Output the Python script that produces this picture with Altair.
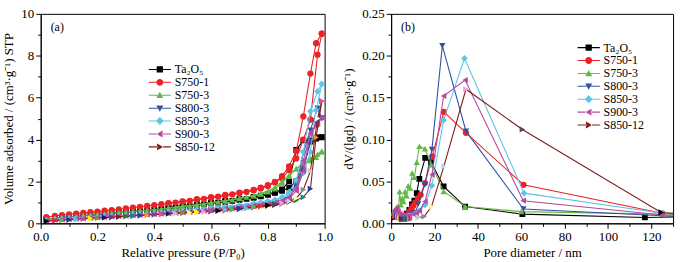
import altair as alt
import pandas as pd

FONT = "Liberation Serif"

SERIES = ["Ta\u2082O\u2085", "S750-1", "S750-3", "S800-3", "S850-3", "S900-3", "S850-12"]
COLORS = ["#000000", "#ec2227", "#62b946", "#3450a3", "#5cc6e8", "#b8489f", "#7f1d1d"]
SHAPES = ["square", "circle", "triangle-up", "triangle-down", "diamond", "triangle-left", "triangle-right"]
SIZES = [34, 40, 40, 40, 44, 40, 40]
# Origin's colour increment list, used by the S850-12 markers
CYCLE = ["#000000", "#ec2227", "#5cb846", "#2e3192", "#5bc5e8", "#c0489b", "#fff200", "#8d8c2b",
         "#1b1464", "#7b2a86", "#8b1a1a", "#2b7a2b", "#0a8a8a", "#21409a", "#f7941d", "#7a3fa0",
         "#ec4a8a", "#ffffff", "#c8c8c8", "#8a8a8a", "#fff799", "#a3e0f5", "#f0a0dc", "#4d4d4d"]

# ---------------- panel (a): isotherms ----------------
P_ADS = [0.02, 0.05, 0.075, 0.1, 0.125, 0.15, 0.175, 0.2, 0.225, 0.25, 0.275, 0.3, 0.325, 0.35,
         0.375, 0.4, 0.425, 0.45, 0.475, 0.5, 0.525, 0.55, 0.575, 0.6, 0.625, 0.65, 0.675, 0.7,
         0.725, 0.75, 0.775, 0.8, 0.825, 0.85, 0.875, 0.9, 0.925, 0.95, 0.97, 0.99]
P_DES = [0.99, 0.975, 0.95, 0.925, 0.9, 0.875, 0.85, 0.825, 0.8, 0.775, 0.75, 0.7, 0.65, 0.6,
         0.55, 0.5, 0.45]

TA_ADS = [0.2, 0.24, 0.27, 0.30, 0.33, 0.36, 0.39, 0.42, 0.45, 0.48, 0.51, 0.54, 0.57, 0.60, 0.63,
          0.66, 0.69, 0.72, 0.75, 0.78, 0.82, 0.86, 0.90, 0.95, 0.99, 1.03, 1.07, 1.12, 1.17, 1.22,
          1.29, 1.36, 1.45, 1.55, 1.70, 2.00, 2.60, 3.90, 4.05, 4.10]
TA_DES = [4.12, 4.10, 3.95, 3.96, 3.50, 2.00, 1.62, 1.48, 1.40, 1.32, 1.26, 1.16, 1.07, 0.99, 0.91,
          0.84, 0.76]
S7501_ADS = [0.30, 0.35, 0.39, 0.43, 0.46, 0.50, 0.53, 0.56, 0.60, 0.63, 0.67, 0.71, 0.75, 0.79,
             0.83, 0.87, 0.91, 0.95, 0.99, 1.03, 1.07, 1.12, 1.17, 1.22, 1.27, 1.32, 1.38, 1.44,
             1.50, 1.57, 1.66, 1.78, 1.95, 2.25, 2.72, 3.45, 5.10, 7.15, 8.60, 9.05]
S7501_DES = [9.05, 8.05, 4.95, 4.00, 3.10, 2.55, 2.15, 1.98, 1.82, 1.70, 1.60, 1.47, 1.36, 1.25,
             1.15, 1.05, 0.96]
S7503_ADS = [0.2, 0.24, 0.27, 0.30, 0.33, 0.36, 0.39, 0.42, 0.45, 0.48, 0.51, 0.54, 0.57, 0.60,
             0.63, 0.66, 0.69, 0.72, 0.75, 0.79, 0.83, 0.87, 0.92, 0.97, 1.02, 1.07, 1.12, 1.18,
             1.25, 1.32, 1.40, 1.50, 1.65, 1.92, 2.25, 2.60, 2.80, 3.00, 3.15, 3.40]
S7503_DES = [3.45, 3.30, 3.10, 2.85, 2.62, 2.30, 2.00, 1.72, 1.55, 1.42, 1.33, 1.20, 1.09, 0.99,
             0.90, 0.82, 0.74]
S8003_ADS = [0.14, 0.17, 0.19, 0.21, 0.23, 0.25, 0.27, 0.29, 0.31, 0.33, 0.35, 0.37, 0.39, 0.41,
             0.43, 0.45, 0.47, 0.49, 0.51, 0.53, 0.56, 0.58, 0.61, 0.64, 0.67, 0.70, 0.73, 0.77,
             0.81, 0.85, 0.90, 0.95, 1.02, 1.10, 1.30, 1.75, 2.60, 3.90, 4.90, 5.00]
S8003_DES = [5.02, 5.50, 4.45, 3.35, 1.90, 1.35, 1.12, 1.02, 0.96, 0.91, 0.87, 0.79, 0.72, 0.66,
             0.60, 0.55, 0.50]
S8503_ADS = [0.16, 0.19, 0.21, 0.23, 0.25, 0.27, 0.29, 0.31, 0.33, 0.35, 0.37, 0.39, 0.41, 0.43,
             0.45, 0.47, 0.50, 0.52, 0.54, 0.57, 0.59, 0.62, 0.65, 0.68, 0.71, 0.74, 0.78, 0.82,
             0.86, 0.91, 0.96, 1.02, 1.10, 1.20, 1.35, 1.65, 2.40, 3.40, 5.40, 6.65]
S8503_DES = [6.65, 6.30, 5.35, 3.40, 2.05, 1.50, 1.25, 1.13, 1.06, 1.00, 0.95, 0.86, 0.78, 0.71,
             0.65, 0.59, 0.54]
S9003_ADS = [0.13, 0.16, 0.18, 0.20, 0.22, 0.24, 0.26, 0.28, 0.30, 0.32, 0.34, 0.36, 0.38, 0.40,
             0.42, 0.44, 0.46, 0.48, 0.50, 0.52, 0.54, 0.57, 0.59, 0.62, 0.65, 0.68, 0.71, 0.74,
             0.78, 0.82, 0.86, 0.91, 0.97, 1.05, 1.20, 1.55, 2.50, 4.30, 4.70, 5.05]
S9003_DES = [5.05, 4.75, 4.30, 3.00, 1.70, 1.25, 1.08, 0.99, 0.93, 0.88, 0.84, 0.77, 0.70, 0.64,
             0.58, 0.53, 0.49]
S85012_ADS = [0.10, 0.13, 0.15, 0.17, 0.19, 0.21, 0.23, 0.25, 0.27, 0.29, 0.31, 0.33, 0.35, 0.37,
              0.39, 0.41, 0.43, 0.45, 0.47, 0.49, 0.51, 0.53, 0.55, 0.57, 0.60, 0.62, 0.65, 0.68,
              0.71, 0.75, 0.79, 0.83, 0.88, 0.94, 1.02, 1.10, 1.25, 1.65, 4.10, 5.83]
S85012_DES = [5.83, 5.00, 2.50, 1.60, 1.20, 1.05, 0.97, 0.91, 0.86, 0.82, 0.78, 0.71, 0.65, 0.59,
              0.54, 0.50, 0.46]

ISO = [(TA_ADS, TA_DES), (S7501_ADS, S7501_DES), (S7503_ADS, S7503_DES), (S8003_ADS, S8003_DES),
       (S8503_ADS, S8503_DES), (S9003_ADS, S9003_DES), (S85012_ADS, S85012_DES)]

# ---------------- panel (b): pore size distribution ----------------
TA_D = [1.2, 1.8, 2.5, 3.2, 4.0, 5.0, 6.0, 7.2, 8.4, 9.6, 10.7, 11.8, 13.0, 15.7, 18.4, 24.2, 34.1,
        60.5, 117.0, 140.0]
TA_V = [0.008, 0.010, 0.009, 0.008, 0.008, 0.008, 0.009, 0.0115, 0.016, 0.0225, 0.027, 0.036, 0.053,
        0.078, 0.073, 0.044, 0.020, 0.011, 0.007, 0.008]
S7501_D = [1.8, 2.5, 3.2, 4.0, 4.8, 5.6, 6.3, 7.0, 7.8, 8.5, 9.3, 10.2, 11.2, 12.4, 13.6, 15.6, 19.0,
           24.3, 34.5, 61.0, 125.0, 140.0]
S7501_V = [0.012, 0.010, 0.009, 0.008, 0.008, 0.008, 0.008, 0.008, 0.011, 0.014, 0.017, 0.021, 0.025,
           0.030, 0.034, 0.048, 0.080, 0.133, 0.108, 0.046, 0.012, 0.010]
S7503_D = [1.0, 1.6, 2.2, 2.8, 3.4, 3.9, 4.5, 5.1, 5.7, 6.4, 7.1, 7.9, 8.8, 9.7, 10.7, 11.8, 13.0,
           15.6, 18.6, 24.2, 34.1, 60.0, 125.0, 140.0]
S7503_V = [0.012, 0.016, 0.011, 0.020, 0.015, 0.038, 0.022, 0.030, 0.026, 0.038, 0.033, 0.045, 0.042,
           0.060, 0.055, 0.073, 0.092, 0.089, 0.070, 0.038, 0.020, 0.014, 0.011, 0.011]
S8003_D = [2.0, 3.0, 4.0, 5.0, 6.0, 7.0, 8.0, 9.0, 10.0, 11.2, 12.5, 15.5, 18.8, 23.6, 34.5, 61.0,
           125.0, 140.0]
S8003_V = [0.012, 0.010, 0.009, 0.008, 0.008, 0.008, 0.009, 0.010, 0.011, 0.013, 0.023, 0.046, 0.088,
           0.212, 0.110, 0.017, 0.009, 0.007]
S8503_D = [2.0, 3.0, 4.0, 5.0, 6.0, 7.0, 8.0, 9.0, 10.2, 11.5, 13.0, 15.6, 18.8, 24.2, 33.8, 61.3,
           125.0, 140.0]
S8503_V = [0.010, 0.009, 0.008, 0.008, 0.008, 0.008, 0.009, 0.009, 0.010, 0.012, 0.015, 0.022, 0.045,
           0.123, 0.197, 0.036, 0.012, 0.011]
S9003_D = [1.2, 1.8, 2.5, 3.2, 4.0, 5.0, 6.0, 7.0, 8.0, 9.0, 10.2, 11.5, 13.0, 15.6, 18.8, 24.2, 34.1,
           60.9, 125.0, 140.0]
S9003_V = [0.012, 0.016, 0.018, 0.014, 0.011, 0.010, 0.009, 0.008, 0.008, 0.009, 0.010, 0.012, 0.015,
           0.026, 0.058, 0.152, 0.171, 0.027, 0.010, 0.009]
S85012_D = [1.0, 1.5, 2.0, 2.5, 3.0, 3.5, 4.0, 4.5, 5.0, 5.5, 6.0, 6.6, 7.2, 7.8, 8.5, 9.2, 10.0, 11.0,
            12.5, 15.2, 18.6, 24.3, 34.5, 60.5, 124.5, 140.0]
S85012_V = [0.006, 0.008, 0.010, 0.009, 0.008, 0.007, 0.006, 0.006, 0.005, 0.005, 0.005, 0.005, 0.005,
            0.005, 0.005, 0.006, 0.006, 0.006, 0.007, 0.008, 0.020, 0.068, 0.160, 0.112, 0.013, 0.010]

PSD = [(TA_D, TA_V), (S7501_D, S7501_V), (S7503_D, S7503_V), (S8003_D, S8003_V),
       (S8503_D, S8503_V), (S9003_D, S9003_V), (S85012_D, S85012_V)]

# axis tick values (majors labelled, minors unlabelled)
A_X_TICKS = [0.0, 0.1, 0.2, 0.3, 0.4, 0.5, 0.6, 0.7, 0.8, 0.9, 1.0]
A_Y_TICKS = [0, 1, 2, 3, 4, 5, 6, 7, 8, 9, 10]
B_X_TICKS = [0, 10, 20, 30, 40, 50, 60, 70, 80, 90, 100, 110, 120, 130]
B_Y_TICKS = [0.0, 0.025, 0.05, 0.075, 0.1, 0.125, 0.15, 0.175, 0.2, 0.225, 0.25]

# legend symbols: a short line on both sides of the marker
LINE_PATH = "M-3.2,-0.15H-0.6V0.15H-3.2Z M0.6,-0.15H3.2V0.15H0.6Z"
MARK_PATHS = ["M-0.9,-0.9H0.9V0.9H-0.9Z",
              "M-1,0A1,1,0,1,1,1,0A1,1,0,1,1,-1,0Z",
              "M0,-1L1,0.8L-1,0.8Z",
              "M0,1L-1,-0.8L1,-0.8Z",
              "M0,-1.15L1.15,0L0,1.15L-1.15,0Z",
              "M-1,0L0.8,1L0.8,-1Z",
              "M1,0L-0.8,-1L-0.8,1Z"]
LEGEND_PATHS = [LINE_PATH + " " + m for m in MARK_PATHS]


def iso_frame(k):
    ads, des = ISO[k]
    rows = []
    for i, (p, v) in enumerate(zip(P_ADS, ads)):
        rows.append(("ads", i, p, v))
    for j, (p, v) in enumerate(zip(P_DES, des)):
        rows.append(("des", len(P_ADS) + j, p, v))
    return pd.DataFrame(rows, columns=["branch", "idx", "x", "y"])


def psd_frame(k):
    d, v = PSD[k]
    df = pd.DataFrame({"x": d, "y": v})
    df["branch"] = "one"
    df["idx"] = range(len(df))
    return df


def axis(title, values, test, fmt, title_pad, orient):
    return alt.Axis(
        title=title, values=values, format=fmt,
        labelExpr=f"({test}) ? datum.label : ''",
        tickSize={"condition": {"test": test, "value": 5}, "value": 3},
        labelOverlap=False, labelFlush=False, grid=False,
        titlePadding=title_pad, labelPadding=2, orient=orient,
    )


def panel(frame_fn, xdom, ydom, xaxis, yaxis, leg_x, leg_y, label):
    X = alt.X("x:Q", scale=alt.Scale(domain=xdom, nice=False, zero=False), axis=xaxis)
    Y = alt.Y("y:Q", scale=alt.Scale(domain=ydom, nice=False, zero=False), axis=yaxis)
    layers = []
    for k, name in enumerate(SERIES):
        df = frame_fn(k)
        if k == 6:
            df["pc"] = [CYCLE[i % len(CYCLE)] for i in range(len(df))]
        else:
            df["pc"] = COLORS[k]
        base = alt.Chart(df)
        layers.append(base.mark_line(color=COLORS[k], strokeWidth=1.1, clip=True).encode(
            x=X, y=Y, detail="branch:N", order="idx:Q"))
        layers.append(base.mark_point(filled=True, opacity=1, shape=SHAPES[k], size=SIZES[k],
                                      strokeWidth=0, clip=True).encode(
            x=X, y=Y, color=alt.Color("pc:N", scale=None)))
    leg = alt.Legend(title=None, orient="none", legendX=leg_x, legendY=leg_y,
                     labelFont=FONT, labelFontSize=12, labelColor="black",
                     symbolSize=49, symbolStrokeWidth=0, labelOffset=9, rowPadding=1, padding=0)
    legend_layer = alt.Chart(pd.DataFrame({"series": SERIES})).mark_point(
        filled=True, opacity=1, size=49).encode(
        color=alt.Color("series:N", scale=alt.Scale(domain=SERIES, range=COLORS), legend=leg),
        shape=alt.Shape("series:N", scale=alt.Scale(domain=SERIES, range=LEGEND_PATHS), legend=leg),
    ).transform_filter("false")
    text_layer = alt.Chart(pd.DataFrame({"t": [label]})).mark_text(
        font=FONT, fontSize=12, align="left", baseline="middle", color="black").encode(
        text="t:N", x=alt.value(10), y=alt.value(13))
    return alt.layer(*layers, legend_layer, text_layer)


left = panel(
    iso_frame, [0, 1], [0, 10],
    axis("Relative pressure (P/P\u2080)", A_X_TICKS,
         "abs(datum.value*5 - round(datum.value*5)) < 0.001", ".1f", 3, "bottom"),
    axis("Volume adsorbed / (cm\u00b3\u00b7g\u207b\u00b9) STP", A_Y_TICKS,
         "datum.value % 2 == 0", "d", 5, "left"),
    114, 50, "(a)",
).properties(width=286, height=211)

right = panel(
    psd_frame, [0, 130], [0, 0.25],
    axis("Pore diameter / nm", B_X_TICKS, "datum.value % 20 == 0 && datum.value <= 120", "d", 3, "bottom"),
    axis("dV/(lgd) / (cm\u00b3\u00b7g\u207b\u00b9)", B_Y_TICKS,
         "abs(datum.value*20 - round(datum.value*20)) < 0.001", ".2f", 6, "left"),
    193, 28, "(b)",
).properties(width=284, height=211)

chart = alt.hconcat(left, right, spacing=8).resolve_scale(
    color="independent", shape="independent", x="independent", y="independent"
).resolve_legend(color="independent", shape="independent").configure(
    padding={"left": 2, "top": 6, "right": 10, "bottom": 0},
    background="white",
).configure_view(stroke="black", strokeWidth=1).configure_axis(
    labelFont=FONT, titleFont=FONT, labelFontSize=13, titleFontSize=13, titleFontWeight="normal",
    labelColor="black", titleColor="black", domainColor="black", tickColor="black",
    domainWidth=1, tickWidth=1,
)

chart.save("out.html", embed_options={"renderer": "svg", "actions": False})
